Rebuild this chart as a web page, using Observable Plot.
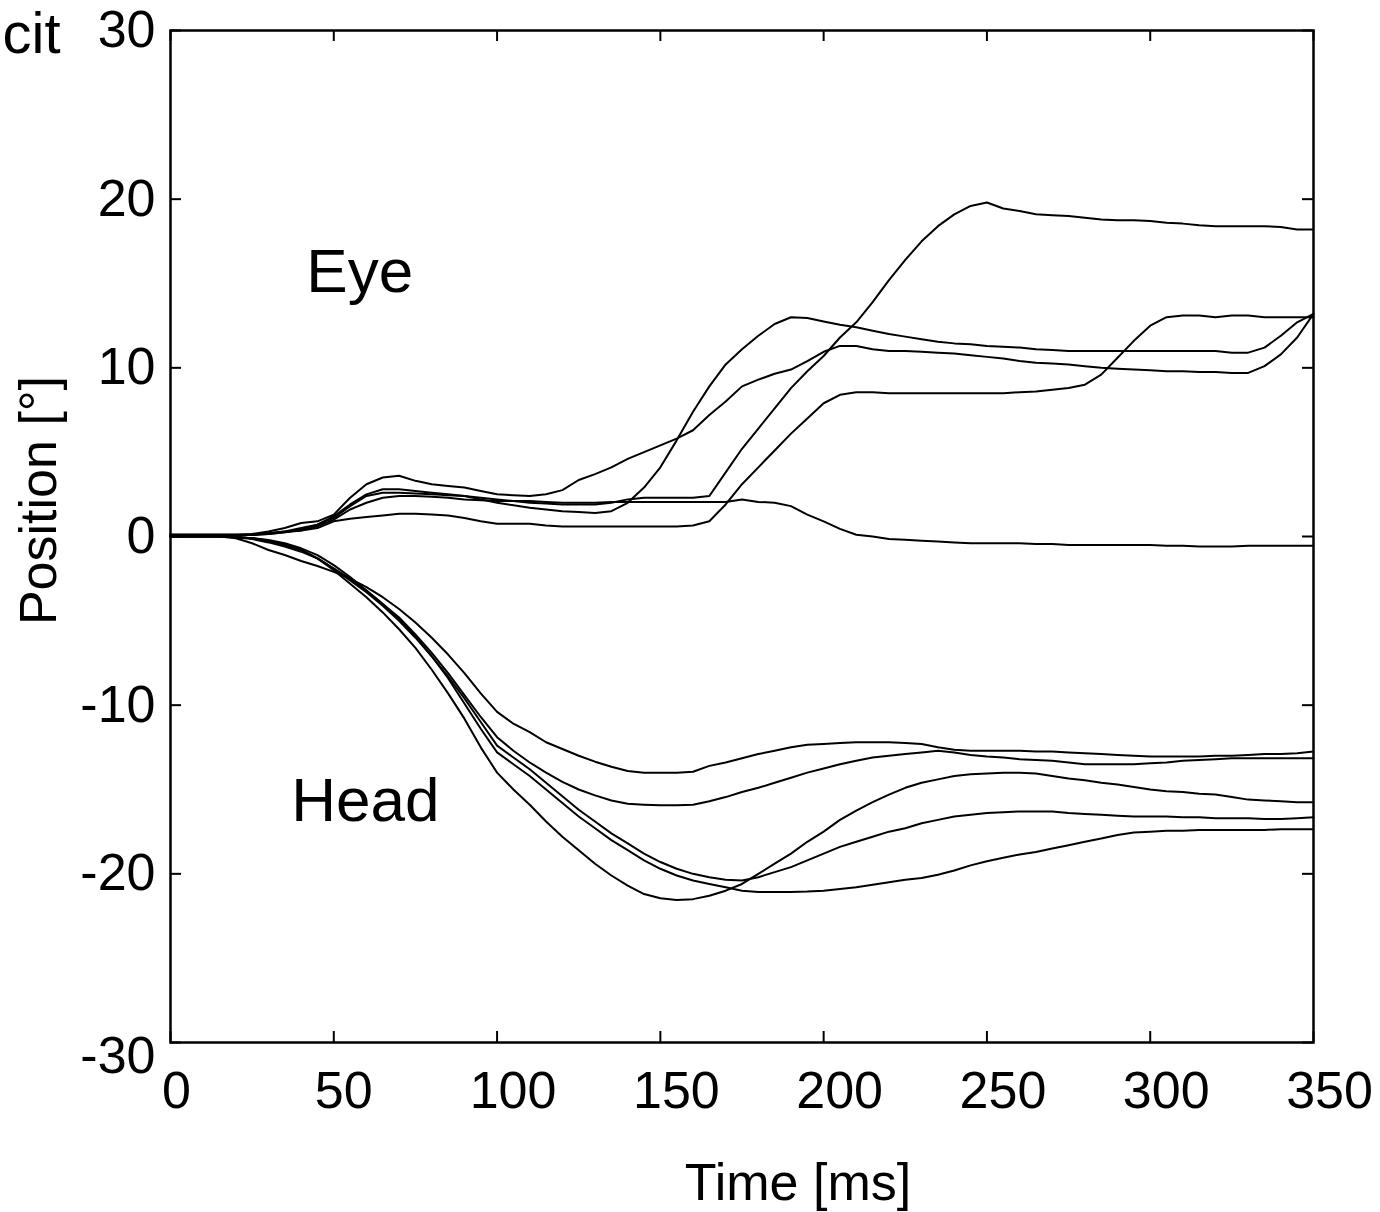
<!DOCTYPE html>
<html>
<head>
<meta charset="utf-8">
<script src="https://cdn.jsdelivr.net/npm/d3@7"></script>
<script src="https://cdn.jsdelivr.net/npm/@observablehq/plot@0.6"></script>
<style>
  html, body { margin: 0; padding: 0; background: #fff; }
  #chart svg { display: block; }
</style>
</head>
<body>
<div id="chart"></div>
<script>
// Time grid (ms), one sample every 5 ms
const time = d3.range(0, 351, 5);

// Eye traces (deg)
const eyeGradual = [0.1,0.1,0.1,0.1,0.1,0.15,0.3,0.5,0.8,0.9,1.3,2.3,3.1,3.5,3.6,3.3,3.1,3.0,2.9,2.7,2.5,2.45,2.4,2.5,2.75,3.35,3.7,4.1,4.6,5.0,5.4,5.8,6.3,7.2,8.0,8.9,9.3,9.65,9.9,10.4,10.95,11.3,11.3,11.1,11.0,11.0,10.95,10.9,10.85,10.75,10.65,10.55,10.4,10.3,10.25,10.2,10.1,10.0,9.95,9.9,9.85,9.8,9.8,9.75,9.75,9.7,9.7,10.1,10.8,11.8,13.2];
const eyeSteep = [0.1,0.1,0.1,0.1,0.1,0.1,0.2,0.3,0.5,0.7,1.2,1.9,2.5,2.8,2.8,2.7,2.6,2.5,2.4,2.2,2.0,1.85,1.7,1.6,1.5,1.45,1.4,1.5,2.0,2.9,4.1,5.7,7.4,8.9,10.2,11.1,11.9,12.6,13.0,12.95,12.75,12.55,12.4,12.2,12.0,11.85,11.7,11.55,11.45,11.4,11.3,11.25,11.2,11.1,11.05,11.0,11.0,11.0,11.0,11.0,11.0,11.0,11.0,11.0,11.0,10.9,10.9,11.2,11.9,12.7,13.2];
const eyePeak = [0.05,0.05,0.05,0.05,0.05,0.1,0.15,0.25,0.4,0.7,1.1,1.8,2.4,2.6,2.6,2.55,2.5,2.45,2.4,2.3,2.2,2.1,2.0,1.95,1.9,1.9,1.9,2.0,2.2,2.3,2.3,2.3,2.3,2.4,3.8,5.2,6.4,7.6,8.8,9.8,10.7,11.8,12.7,13.9,15.2,16.4,17.5,18.4,19.1,19.6,19.8,19.45,19.3,19.1,19.05,19.0,18.9,18.8,18.75,18.75,18.7,18.6,18.55,18.45,18.4,18.4,18.4,18.4,18.35,18.2,18.2];
const eyeFlat = [0.05,0.05,0.05,0.05,0.05,0.1,0.15,0.25,0.35,0.6,1.0,1.6,2.0,2.3,2.4,2.4,2.35,2.3,2.2,2.15,2.1,2.1,2.1,2.05,2.0,2.0,2.0,2.05,2.05,2.05,2.05,2.05,2.05,2.05,2.05,2.2,2.05,2.0,1.8,1.3,0.9,0.45,0.1,0.0,-0.15,-0.2,-0.25,-0.3,-0.35,-0.4,-0.4,-0.4,-0.4,-0.45,-0.45,-0.5,-0.5,-0.5,-0.5,-0.5,-0.5,-0.55,-0.55,-0.6,-0.6,-0.6,-0.55,-0.55,-0.55,-0.55,-0.55];
const eyeLate = [0.1,0.1,0.1,0.1,0.1,0.1,0.2,0.3,0.35,0.5,0.9,1.05,1.15,1.25,1.35,1.35,1.3,1.25,1.1,0.9,0.75,0.75,0.75,0.65,0.6,0.6,0.6,0.6,0.6,0.6,0.6,0.6,0.65,0.9,1.9,3.1,4.1,5.1,6.1,7.0,7.9,8.4,8.55,8.55,8.5,8.5,8.5,8.5,8.5,8.5,8.5,8.5,8.55,8.6,8.7,8.8,9.0,9.6,10.6,11.6,12.5,13.0,13.1,13.1,13.0,13.1,13.1,13.0,13.0,13.0,13.0];

// Head traces (deg)
const headA = [0,0,0,0,-0.05,-0.15,-0.35,-0.6,-0.9,-1.3,-1.9,-2.5,-3.0,-3.6,-4.3,-5.1,-6.0,-7.0,-8.1,-9.3,-10.4,-11.1,-11.6,-12.2,-12.6,-13.0,-13.35,-13.65,-13.9,-14.0,-14.0,-14.0,-13.95,-13.6,-13.4,-13.15,-12.9,-12.7,-12.5,-12.35,-12.3,-12.25,-12.2,-12.2,-12.2,-12.25,-12.3,-12.5,-12.65,-12.7,-12.7,-12.7,-12.7,-12.75,-12.75,-12.8,-12.85,-12.9,-12.95,-13.0,-13.05,-13.05,-13.05,-13.05,-13.0,-13.0,-12.95,-12.9,-12.9,-12.85,-12.75];
const headB = [0,0,0,0,-0.05,-0.1,-0.2,-0.4,-0.7,-1.1,-1.7,-2.4,-3.2,-4.0,-4.8,-5.8,-6.9,-8.1,-9.4,-10.7,-11.9,-12.7,-13.4,-14.0,-14.55,-15.0,-15.35,-15.65,-15.85,-15.9,-15.93,-15.93,-15.9,-15.7,-15.45,-15.15,-14.9,-14.6,-14.3,-14.0,-13.75,-13.5,-13.3,-13.1,-13.0,-12.9,-12.8,-12.7,-12.8,-12.95,-13.05,-13.1,-13.2,-13.25,-13.3,-13.4,-13.5,-13.5,-13.5,-13.5,-13.45,-13.4,-13.3,-13.25,-13.2,-13.15,-13.15,-13.15,-13.15,-13.15,-13.15];
const headC = [0,0,0,0,-0.05,-0.1,-0.25,-0.5,-0.8,-1.3,-2.0,-2.8,-3.6,-4.5,-5.5,-6.6,-7.9,-9.3,-10.8,-12.5,-14.0,-15.0,-15.9,-16.9,-17.8,-18.6,-19.4,-20.1,-20.7,-21.2,-21.45,-21.55,-21.5,-21.3,-21.0,-20.6,-20.0,-19.4,-18.8,-18.1,-17.5,-16.8,-16.25,-15.75,-15.3,-14.9,-14.6,-14.4,-14.2,-14.1,-14.05,-14.0,-14.0,-14.05,-14.2,-14.35,-14.45,-14.6,-14.7,-14.85,-15.0,-15.1,-15.15,-15.25,-15.3,-15.45,-15.6,-15.65,-15.7,-15.75,-15.75];
const headD = [0,0,0,0,-0.05,-0.1,-0.25,-0.5,-0.8,-1.3,-1.9,-2.6,-3.3,-4.1,-5.0,-6.0,-7.1,-8.3,-9.6,-11.0,-12.4,-13.1,-13.8,-14.6,-15.4,-16.2,-16.9,-17.6,-18.2,-18.8,-19.3,-19.7,-20.0,-20.2,-20.35,-20.4,-20.2,-19.9,-19.6,-19.2,-18.8,-18.4,-18.1,-17.8,-17.5,-17.3,-17.0,-16.8,-16.6,-16.5,-16.4,-16.35,-16.3,-16.3,-16.3,-16.4,-16.45,-16.5,-16.55,-16.6,-16.6,-16.6,-16.65,-16.65,-16.7,-16.7,-16.7,-16.75,-16.75,-16.7,-16.65];
const headE = [0,0,0,0,-0.1,-0.4,-0.8,-1.1,-1.45,-1.75,-2.1,-2.5,-3.2,-4.0,-4.9,-5.9,-7.1,-8.4,-9.9,-11.4,-12.8,-13.5,-14.2,-15.0,-15.8,-16.6,-17.3,-18.0,-18.6,-19.2,-19.7,-20.1,-20.4,-20.6,-20.8,-21.0,-21.07,-21.07,-21.07,-21.05,-21.0,-20.9,-20.8,-20.65,-20.5,-20.35,-20.25,-20.05,-19.8,-19.5,-19.25,-19.05,-18.85,-18.7,-18.5,-18.3,-18.1,-17.9,-17.7,-17.55,-17.5,-17.45,-17.45,-17.4,-17.4,-17.4,-17.4,-17.4,-17.35,-17.35,-17.35];

const seriesNames = ["eyeGradual","eyeSteep","eyePeak","eyeFlat","eyeLate","headA","headB","headC","headD","headE"];
const seriesValues = [eyeGradual,eyeSteep,eyePeak,eyeFlat,eyeLate,headA,headB,headC,headD,headE];

// Axis ticks
const xTicks = [0, 50, 100, 150, 200, 250, 300, 350];
const yTicks = [-30, -20, -10, 0, 10, 20, 30];

// Annotations
const labelText = ["Eye", "Head"];
const labelT = [41.6, 37.0];
const labelV = [14.48, -16.86];

const rows = [];
seriesNames.forEach((name, k) => {
  seriesValues[k].forEach((v, i) => rows.push({series: name, t: time[i], v}));
});
const labels = labelText.map((text, i) => ({text, t: labelT[i], v: labelV[i]}));

const W = 1380, H = 1212;
const mL = 170, mR = 67, mT = 30, mB = 170;
const plotW = W - mL - mR, plotH = H - mT - mB;
const tickLen = 11;
const font = "'Liberation Sans', Arial, Helvetica, sans-serif";
const fmt = d => String(d);

const chart = Plot.plot({
  width: W,
  height: H,
  marginLeft: mL,
  marginRight: mR,
  marginTop: mT,
  marginBottom: mB,
  x: {domain: [0, 350]},
  y: {domain: [-30, 30]},
  style: {fontFamily: font, color: "black", background: "white", overflow: "visible"},
  marks: [
    // inward tick marks on all four sides
    Plot.tickX(xTicks, {x: d => d, insetTop: plotH - tickLen, stroke: "black", strokeWidth: 2}),
    Plot.tickX(xTicks, {x: d => d, insetBottom: plotH - tickLen, stroke: "black", strokeWidth: 2}),
    Plot.tickY(yTicks, {y: d => d, insetRight: plotW - tickLen, stroke: "black", strokeWidth: 2}),
    Plot.tickY(yTicks, {y: d => d, insetLeft: plotW - tickLen, stroke: "black", strokeWidth: 2}),
    // tick labels
    Plot.axisX(xTicks.filter(d => d === 0), {tickSize: 0, tickPadding: 29, fontSize: 52, dx: 6, tickFormat: fmt, label: null}),
    Plot.axisX(xTicks.filter(d => d === 50), {tickSize: 0, tickPadding: 29, fontSize: 52, dx: 10, tickFormat: fmt, label: null}),
    Plot.axisX(xTicks.filter(d => d >= 100), {tickSize: 0, tickPadding: 29, fontSize: 52, dx: 16, tickFormat: fmt, label: null}),
    Plot.axisY(yTicks.filter(d => d !== -30), {tickSize: 0, tickPadding: 15, fontSize: 52, tickFormat: fmt, label: null}),
    Plot.axisY(yTicks.filter(d => d === -30), {tickSize: 0, tickPadding: 15, fontSize: 52, dy: 14, tickFormat: fmt, label: null}),
    // traces
    Plot.line(rows, {x: "t", y: "v", z: "series", stroke: "black", strokeWidth: 2, curve: "linear"}),
    // frame
    Plot.frame({stroke: "black", strokeWidth: 2.5}),
    // annotations
    Plot.text(labels, {x: "t", y: "v", text: "text", textAnchor: "start", lineAnchor: "bottom", fontSize: 62, fill: "black"}),
    // axis titles
    Plot.text(["Time [ms]"], {text: d => d, frameAnchor: "bottom", textAnchor: "middle", lineAnchor: "top", dx: 56, dy: 121, fontSize: 52, fill: "black"}),
    Plot.text(["Position [°]"], {text: d => d, frameAnchor: "left", textAnchor: "middle", lineAnchor: "bottom", rotate: -90, dx: -115, dy: -36, fontSize: 52, fill: "black"}),
    Plot.text(["cit"], {text: d => d, frameAnchor: "top-left", textAnchor: "end", lineAnchor: "bottom", dx: -110, dy: 22, fontSize: 58, fill: "black"})
  ]
});

document.getElementById("chart").appendChild(chart);
</script>
</body>
</html>
